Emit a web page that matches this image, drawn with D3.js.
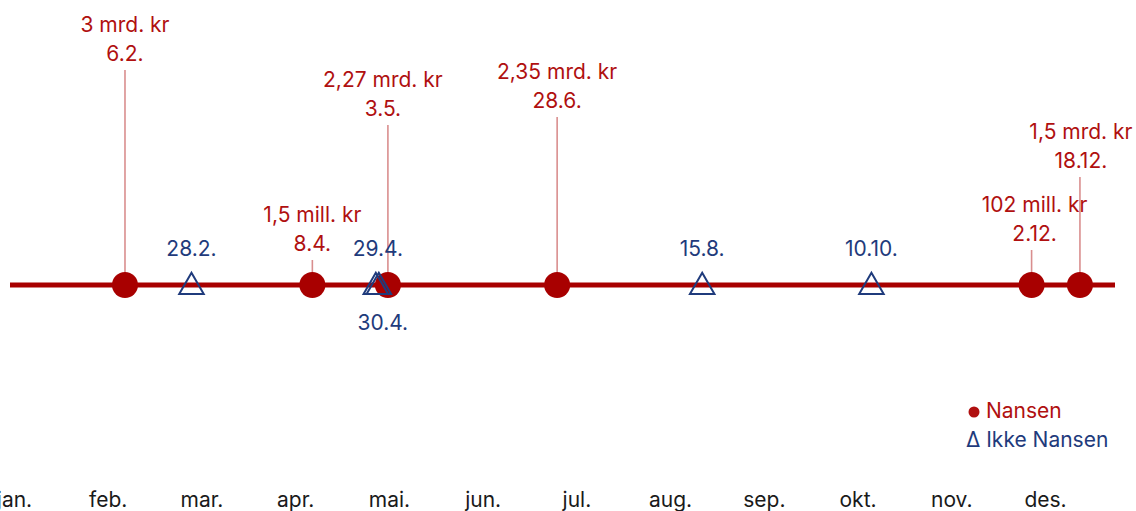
<!DOCTYPE html>
<html>
<head>
<meta charset="utf-8">
<script src="https://cdn.jsdelivr.net/npm/d3@7"></script>
<style>
  html, body { margin: 0; padding: 0; background: #fff; }
  svg { display: block; font-family: Inter, "Noto Sans", sans-serif; }
</style>
</head>
<body>
<svg id="chart" width="1136" height="511"></svg>
<script>
// Nansen vs. ikke Nansen, tidslinje 2024

const months = ["jan.", "feb.", "mar.", "apr.", "mai.", "jun.", "jul.", "aug.", "sep.", "okt.", "nov.", "des."]

// Nansen (red dots)
const nansenDates = ["2024-02-06", "2024-04-08", "2024-05-03", "2024-06-28", "2024-12-02", "2024-12-18"]
const nansenAmounts = ["3 mrd. kr", "1,5 mill. kr", "2,27 mrd. kr", "2,35 mrd. kr", "102 mill. kr", "1,5 mrd. kr"]
const nansenLabels = ["6.2.", "8.4.", "3.5.", "28.6.", "2.12.", "18.12."]

// Ikke Nansen (triangles)
const otherDates = ["2024-02-28", "2024-04-29", "2024-04-30", "2024-08-15", "2024-10-10"]
const otherLabels = ["28.2.", "29.4.", "30.4.", "15.8.", "10.10."]

// layout: where each red label sits (y of the amount line) and the label nudge
const nansenLabelTop = [25, 215, 80, 72, 205, 132]
const nansenLabelDx = [0, 0, -5, 0, 3, 1]
const otherLabelBelow = [false, false, true, false, false]
const otherLabelDx = [0, 2, 4, 0, 0]

const red = "#a80000"
const redText = "#b01010"
const stemColor = "#d98e8e"
const blue = "#1f3b7c"
const lineY = 285
const fs = 21

const parse = d3.timeParse("%Y-%m-%d")
const svg = d3.select("#chart")

const x = d3.scaleTime()
  .domain([new Date(2024, 0, 1), new Date(2025, 0, 1)])
  .range([16.2, 16.2 + 366 * 3.022])

const mx = d3.scalePoint().domain(months).range([14, 1045])

const nansen = nansenDates.map((d, i) => ({
  date: parse(d), amount: nansenAmounts[i], label: nansenLabels[i],
  top: nansenLabelTop[i], dx: nansenLabelDx[i]
}))
const other = otherDates.map((d, i) => ({
  date: parse(d), label: otherLabels[i], below: otherLabelBelow[i], dx: otherLabelDx[i]
}))

// stems
svg.append("g").selectAll("line")
  .data(nansen)
  .join("line")
  .attr("x1", d => x(d.date)).attr("x2", d => x(d.date))
  .attr("y1", d => d.top + 45).attr("y2", lineY)
  .attr("stroke", stemColor).attr("stroke-width", 1.6)

// timeline
svg.append("line")
  .attr("x1", 10).attr("x2", 1115)
  .attr("y1", lineY).attr("y2", lineY)
  .attr("stroke", red).attr("stroke-width", 5)

// dots
svg.append("g").selectAll("circle")
  .data(nansen)
  .join("circle")
  .attr("cx", d => x(d.date)).attr("cy", lineY)
  .attr("r", 13).attr("fill", red)

// triangles
const tri = d3.symbol().type(d3.symbolTriangle).size(260)
svg.append("g").selectAll("path")
  .data(other)
  .join("path")
  .attr("d", tri)
  .attr("transform", d => `translate(${x(d.date)},${lineY + 2})`)
  .attr("fill", "none").attr("stroke", blue).attr("stroke-width", 2)

// red labels
const rl = svg.append("g").attr("fill", redText).attr("font-size", fs).attr("text-anchor", "middle")
rl.selectAll("text.amt")
  .data(nansen)
  .join("text").attr("class", "amt")
  .attr("x", d => x(d.date) + d.dx).attr("y", d => d.top)
  .attr("dy", "0.35em")
  .text(d => d.amount)
rl.selectAll("text.dt")
  .data(nansen)
  .join("text").attr("class", "dt")
  .attr("x", d => x(d.date) + d.dx).attr("y", d => d.top + 29)
  .attr("dy", "0.35em")
  .text(d => d.label)

// blue labels
svg.append("g").attr("fill", blue).attr("font-size", fs).attr("text-anchor", "middle")
  .selectAll("text")
  .data(other)
  .join("text")
  .attr("x", d => x(d.date) + d.dx)
  .attr("y", d => d.below ? 323 : 249)
  .attr("dy", "0.35em")
  .text(d => d.label)

// legend
svg.append("circle").attr("cx", 974).attr("cy", 412).attr("r", 5.5).attr("fill", redText)
svg.append("text").attr("x", 986).attr("y", 411).attr("dy", "0.35em")
  .attr("font-size", fs).attr("fill", redText).text("Nansen")
svg.append("text").attr("x", 966).attr("y", 440).attr("dy", "0.35em")
  .attr("font-size", fs).attr("fill", blue).text("Δ Ikke Nansen")

// month axis
const axis = svg.append("g").attr("transform", "translate(0,500)")
  .call(d3.axisBottom(mx).tickSize(0).tickPadding(0))
axis.select(".domain").remove()
axis.selectAll("text")
  .attr("font-size", fs).attr("font-family", "Inter, 'Noto Sans', sans-serif")
  .attr("fill", "#1a1a1a").attr("y", 0).attr("dy", "0.35em")
</script>
</body>
</html>
